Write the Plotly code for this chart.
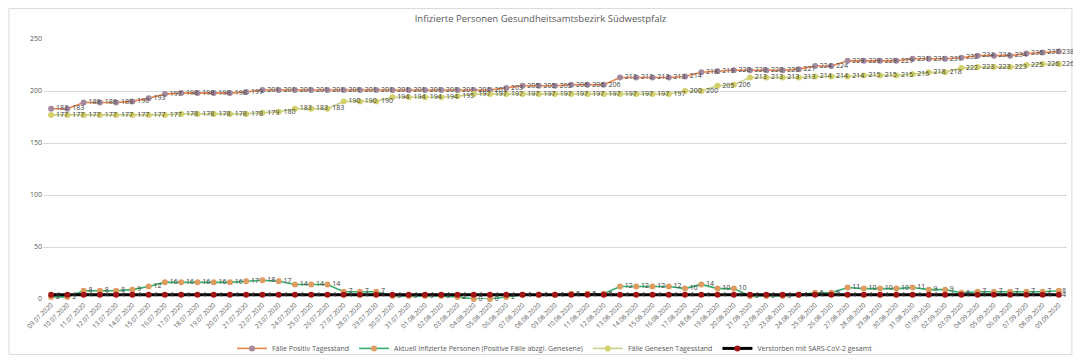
import plotly.graph_objects as go
import pandas as pd

dates = [d.strftime("%d.%m.%Y") for d in pd.date_range("2020-07-09", "2020-09-09")]

positiv = [183, 183, 189, 189, 189, 190, 193, 197, 198, 198, 198, 198, 199,
           201, 201, 201, 201, 201, 201, 201, 201, 201, 201, 201, 201, 201, 201, 201,
           203, 205, 205, 205, 206, 206, 206,
           213, 213, 213, 213,
           214, 218, 219, 220, 220, 220, 220, 221, 224, 224,
           229, 229, 229, 229, 231, 231, 231, 232, 234, 234, 234, 236, 237, 238]

aktuell = [2, 2, 8, 8, 8, 9, 12, 16, 16, 16, 16, 16, 17,
           18, 17, 14, 14, 14, 7, 7, 7, 3, 3, 3, 3, 2, 0, 0,
           2, 4, 4, 4, 5, 5, 5,
           12, 12, 12, 12,
           10, 14, 10, 10, 3, 3, 3, 4, 6, 6,
           11, 10, 10, 10, 11, 9, 9, 6, 7, 7, 7, 7, 7, 8]

genesen = [177, 177, 177, 177, 177, 177, 177, 177, 178, 178, 178, 178, 178,
           179, 180, 183, 183, 183, 190, 190, 190, 194, 194, 194, 194, 195, 197, 197,
           197, 197, 197, 197, 197, 197, 197,
           197, 197, 197, 197,
           200, 200, 205, 206, 213, 213, 213, 213, 214, 214,
           214, 215, 215, 215, 216, 218, 218, 222, 223, 223, 223, 225, 226, 226]

verstorben = [4] * 63

series = [
    ("Fälle Positiv Tagesstand", positiv, "#E8834A", "#A48A9C", 1.6),
    ("Aktuell Infizierte Personen (Positive Fälle abzgl. Genesene)", aktuell, "#35AE6B", "#DE9C62", 1.6),
    ("Fälle Genesen Tagesstand", genesen, "#C8D28A", "#D5D06C", 1.6),
    ("Verstorben mit SARS-CoV-2 gesamt", verstorben, "#000000", "#A31515", 3),
]

label_font = dict(size=7, color="#404040", family="Open Sans")

fig = go.Figure()
annotations = []
for name, vals, lc, mc, lw in series:
    texts = [str(v) for v in vals[:-1]] + [""]
    fig.add_trace(go.Scatter(
        x=dates, y=vals, name=name, mode="lines+markers+text",
        line=dict(color=lc, width=lw),
        marker=dict(color=mc, size=6),
        text=texts, textposition="middle right",
        textfont=label_font,
        cliponaxis=False,
    ))
    annotations.append(dict(x=dates[-1], y=vals[-1], xref="x", yref="y",
                            text=str(vals[-1]), showarrow=False,
                            xanchor="left", yanchor="middle", xshift=1,
                            font=label_font))

# page body has an 8px default margin; size the figure so the plot area lands where the reference has it
fig.update_layout(
    width=1065, height=348,
    margin=dict(l=35, r=6, t=31, b=57, autoexpand=False),
    paper_bgcolor="white", plot_bgcolor="white",
    font=dict(family="Open Sans", color="#595959"),
    title=dict(text="Infizierte Personen Gesundheitsamtsbezirk Südwestpfalz",
               x=0.5, xanchor="center", y=0.97, yanchor="middle",
               font=dict(size=9.5, color="#595959")),
    showlegend=True,
    legend=dict(orientation="h", x=0.5, xanchor="center", y=-0.19, yanchor="middle",
                font=dict(size=7, color="#595959"), itemwidth=30,
                bgcolor="rgba(0,0,0,0)"),
    xaxis=dict(type="category", range=[-0.5, 62.5], showgrid=False, tickangle=-45,
               tickfont=dict(size=6.5, color="#595959"), showline=False, ticks="",
               zeroline=False),
    yaxis=dict(range=[0, 250], dtick=50, showgrid=True, gridcolor="#D9D9D9", gridwidth=1,
               tickfont=dict(size=7, color="#595959"), zeroline=False, ticks="",
               showline=False),
    annotations=annotations,
    shapes=[dict(type="rect", xref="paper", yref="paper",
                 x0=-0.0332, x1=1.0048, y0=-0.213, y1=1.117,
                 line=dict(color="#D9D9D9", width=1), layer="below")],
)

fig.write_html("out.html")
